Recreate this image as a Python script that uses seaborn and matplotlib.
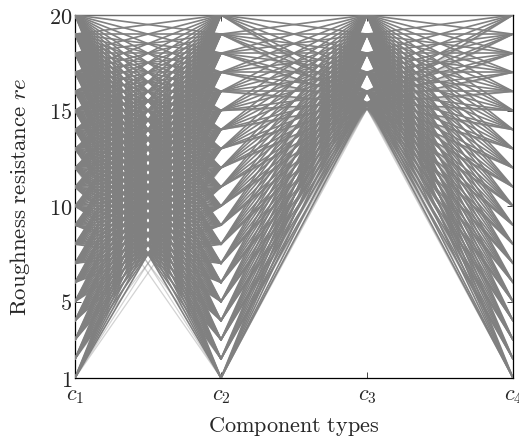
import matplotlib
matplotlib.use("Agg")
import matplotlib.pyplot as plt
import pandas as pd
import seaborn as sns

# axis names and the value levels
components = ["c_1", "c_2", "c_3", "c_4"]
levels = list(range(1, 21))              # values used on c1, c2 and c4
c3_levels = [15.4, 16, 17, 18, 19, 20]   # values used on c3
c3_faint = [15.1, 15.25]                 # rare, lightly drawn c3 values
min_sum_c12 = 15                         # c1 + c2 lower bound of the bulk of solutions
c12_faint = [(1, 13), (1, 12), (2, 12), (13, 1), (12, 1), (12, 2)]
y_ticks = [1, 5, 10, 15, 20]

# build one small polyline per pair of neighbouring axes
rows = []
seg = 0
def add(pos, a, b, kind):
    global seg
    rows.append((seg, pos, a, kind))
    rows.append((seg, pos + 1, b, kind))
    seg += 1

for a in levels:
    for b in levels:
        if a + b >= min_sum_c12:
            add(0, a, b, "solid")
for a, b in c12_faint:
    add(0, a, b, "faint")
for b in levels:
    for c in c3_levels:
        add(1, b, c, "solid")
        add(2, c, b, "solid")
    for c in c3_faint:
        add(1, b, c, "faint")
        add(2, c, b, "faint")

lines = pd.DataFrame(rows, columns=["seg", "pos", "value", "kind"])

sns.set_style("ticks", {"xtick.direction": "in", "ytick.direction": "in"})
plt.rcParams["mathtext.fontset"] = "cm"
plt.rcParams["font.family"] = ["DejaVu Serif"]

fig = plt.figure(figsize=(5.19, 4.40), dpi=100)
ax = fig.add_axes([75 / 519, 62 / 440, 438 / 519, 363 / 440])

sns.lineplot(data=lines[lines["kind"] == "faint"], x="pos", y="value", units="seg",
             estimator=None, sort=False, color="#808080", lw=0.9, alpha=0.35, ax=ax,
             legend=False, zorder=3)
sns.lineplot(data=lines[lines["kind"] == "solid"], x="pos", y="value", units="seg",
             estimator=None, sort=False, color="#808080", lw=1.2, ax=ax,
             legend=False, zorder=3)

ax.set_xlim(0, 3)
ax.set_ylim(1, 20)
ax.set_xticks(range(len(components)))
ax.set_xticklabels([f"${c}$" for c in components], fontsize=16)
ax.set_yticks(y_ticks)
ax.set_yticklabels([f"${v}$" for v in y_ticks], fontsize=16)
ax.tick_params(axis="x", pad=4)
ax.tick_params(axis="y", pad=2)
ax.tick_params(direction="in", length=4, width=0.6, top=True, right=True)
for s in ax.spines.values():
    s.set_linewidth(0.9)
    s.set_color("black")
    s.set_visible(True)

ax.set_xlabel(r"$\mathrm{Component\ types}$", fontsize=16, labelpad=7)
ax.set_ylabel(r"$\mathrm{Roughness\ resistance}\ re$", fontsize=16.5, labelpad=12)

fig.savefig("out.png", dpi=100)
